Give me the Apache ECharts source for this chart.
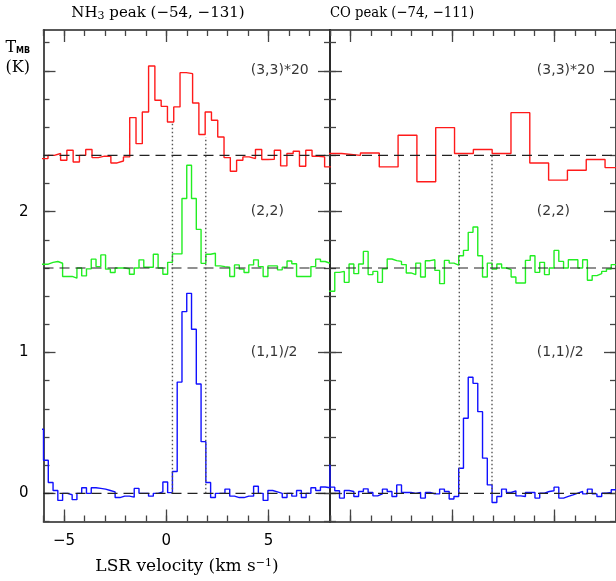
<!DOCTYPE html>
<html>
<head>
<meta charset="utf-8">
<title>NH3 and CO peak spectra</title>
<script src="https://cdn.jsdelivr.net/npm/echarts@6/dist/echarts.min.js"></script>
<style>
  html, body { margin: 0; padding: 0; background: #fff; }
  #chart { width: 616px; height: 581px; }
</style>
</head>
<body>
<div id="chart"></div>
<script>
// Axis extents and tick positions
const velRange = [-6, 8];
const tempRange = [-0.2, 3.29];
const velMajorTicks = [-5, 0, 5];
const velMinorTicks = [-6, -5, -4, -3, -2, -1, 0, 1, 2, 3, 4, 5, 6, 7, 8];
const tempMajorTicks = [0, 1, 2, 3];
const tempTickLabels = [0, 1, 2];
const tempMinorTicks = [-0.2, 0, 0.2, 0.4, 0.6, 0.8, 1, 1.2, 1.4, 1.6, 1.8, 2, 2.2, 2.4, 2.6, 2.8, 3, 3.2];

// Panels, transitions and the vertical offsets of the stacked spectra
const panelTitles = ['NH{sub|3} peak (−54, −131)', 'CO peak (−74, −111)'];
const transitionLabels = ['(3,3)*20', '(2,2)', '(1,1)/2'];
const transitionLevels = [3, 2, 1];
const baselineOffsets = [2.4, 1.6, 0];

// Channel grids: left edge of the first listed channel and channel width (km/s)
const fineChannelStart = -6.2333;
const fineChannelWidth = 0.23333;
const nh3RedChannelStart = -6.087;
const nh3RedChannelWidth = 0.3072;
const coRedChannelStart = -6.351;
const coRedChannelWidth = 0.921;

// NH3 peak position: (3,3)*20 + 2.4, (2,2) + 1.6, (1,1)/2
const nh3Peak33 = [
  2.377, 2.40, 2.413, 2.365, 2.436, 2.353, 2.40, 2.441, 2.384, 2.394,
  2.394, 2.346, 2.36, 2.389, 2.668, 2.483, 2.708, 3.034, 2.791, 2.748,
  2.637, 2.744, 2.987, 2.98, 2.772, 2.548, 2.708, 2.649, 2.53, 2.384,
  2.287, 2.365, 2.389, 2.377, 2.441, 2.37, 2.372, 2.436, 2.325, 2.413,
  2.429, 2.322, 2.436, 2.394, 2.389, 2.318
];
const nh3Peak22 = [
  1.627,
  1.627, 1.64, 1.646, 1.634, 1.54, 1.54, 1.528, 1.6, 1.544, 1.594,
  1.663, 1.61, 1.693, 1.592, 1.568, 1.6, 1.6, 1.595, 1.556, 1.6,
  1.658, 1.605, 1.605, 1.698, 1.6, 1.556, 1.64, 1.70, 1.70, 2.094,
  2.33, 2.094, 1.874, 1.633, 1.698, 1.705, 1.615, 1.61, 1.606, 1.54,
  1.622, 1.592, 1.568, 1.622, 1.658, 1.61, 1.54, 1.615, 1.615, 1.587,
  1.606, 1.65, 1.63, 1.54, 1.54, 1.54, 1.61, 1.663, 1.646, 1.634
];
const nh3Peak11 = [
  0.455,
  0.235, 0.077, 0.02, -0.05, 0.0, -0.01, -0.045, 0.0, 0.04, 0.0,
  0.04, 0.035, 0.03, 0.02, 0.01, -0.03, -0.02, -0.02, -0.027, 0.035,
  0.0, 0.0, -0.02, 0.0, 0.01, 0.08, 0.005, 0.155, 0.79, 1.29,
  1.42, 1.165, 0.776, 0.367, 0.077, -0.03, 0.0, 0.0, 0.03, -0.02,
  -0.03, -0.03, -0.02, -0.02, 0.05, 0.0, -0.05, 0.02, 0.01, 0.0,
  -0.03, 0.0, -0.02, 0.02, -0.03, 0.0, 0.04, 0.02, 0.045, 0.04
];

// CO peak position, same scaling and offsets
const coPeak33 = [
  2.413, 2.40, 2.417, 2.318, 2.543, 2.212, 2.597, 2.413, 2.441, 2.413,
  2.703, 2.346, 2.224, 2.294, 2.37, 2.313
];
const coPeak22 = [
  1.435,
  1.435, 1.569, 1.576, 1.498, 1.628, 1.56, 1.628, 1.718, 1.553, 1.576,
  1.498, 1.595, 1.664, 1.652, 1.647, 1.624, 1.565, 1.553, 1.635, 1.536,
  1.652, 1.659, 1.583, 1.489, 1.654, 1.635, 1.621, 1.687, 1.725, 1.853,
  1.891, 1.687, 1.536, 1.635, 1.593, 1.628, 1.6, 1.588, 1.536, 1.494,
  1.494, 1.654, 1.687, 1.569, 1.64, 1.553, 1.6, 1.725, 1.647, 1.6,
  1.659, 1.659, 1.6, 1.659, 1.513, 1.546, 1.56, 1.576, 1.593, 1.624
];
const coPeak11 = [
  0.2,
  0.044, 0.018, -0.034, 0.02, 0.013, -0.022, 0.013, 0.032, 0.006, -0.018,
  -0.004, 0.03, 0.013, -0.022, 0.06, 0.006, 0.006, 0.0, 0.006, -0.034,
  0.006, -0.004, -0.004, 0.03, 0.013, -0.04, -0.022, 0.178, 0.533, 0.824,
  0.781, 0.58, 0.25, 0.06, -0.065, -0.022, 0.03, 0.006, 0.018, -0.018,
  -0.022, 0.006, 0.006, -0.034, 0.001, 0.013, 0.018, 0.044, -0.034, -0.022,
  -0.011, 0.001, 0.013, -0.004, 0.03, -0.004, -0.022, 0.001, 0.006, 0.025
];

// Velocity interval of the main (1,1) line, drawn up to the (3,3) spectrum
const nh3Markers = [0.3, 1.93];
const nh3MarkerTops = [2.64, 2.53];
const coMarkers = [0.33, 1.93];
const coMarkerTops = [2.41, 2.41];

const SERIF = '"DejaVu Serif", serif';
const SANS = '"DejaVu Sans", sans-serif';
const AXIS_COLOR = '#222';
const TICK_COLOR = '#444';
const SPEC_COLORS = ['#ff1a1a', '#22ee22', '#1010ff'];

function histogram(start, width, values) {
  const pts = [];
  values.forEach((v, i) => {
    pts.push([start + i * width, v]);
    pts.push([start + (i + 1) * width, v]);
  });
  return pts;
}

const fmtNum = v => (v < 0 ? '−' + Math.abs(v) : String(v));

const grids = [
  { left: 43.5, top: 30, width: 286.5, height: 491.5 },
  { left: 330, top: 30, width: 286.5, height: 491.5 }
];

const xAxis = [];
const yAxis = [];
const tickStyle = { color: TICK_COLOR, width: 1.3 };
const lineStyleAxis = { show: true, onZero: false, lineStyle: { color: AXIS_COLOR, width: 1.6 } };
const noLine = { show: false, onZero: false };

grids.forEach((g, gi) => {
  const xb = { gridIndex: gi, type: 'value', min: velRange[0], max: velRange[1], splitLine: { show: false } };
  ['bottom', 'top'].forEach(pos => {
    xAxis.push(Object.assign({}, xb, {
      position: pos,
      axisLine: lineStyleAxis,
      axisTick: { show: true, inside: true, length: 12, customValues: velMajorTicks, lineStyle: tickStyle },
      axisLabel: {
        show: gi === 0 && pos === 'bottom', customValues: velMajorTicks, margin: 12,
        formatter: fmtNum, fontFamily: SANS, fontSize: 15, color: '#000'
      }
    }));
    xAxis.push(Object.assign({}, xb, {
      position: pos,
      axisLine: noLine,
      axisTick: { show: true, inside: true, length: 6, customValues: velMinorTicks, lineStyle: tickStyle },
      axisLabel: { show: false }
    }));
  });
  const yb = { gridIndex: gi, type: 'value', min: tempRange[0], max: tempRange[1], splitLine: { show: false } };
  ['left', 'right'].forEach(pos => {
    yAxis.push(Object.assign({}, yb, {
      position: pos,
      axisLine: lineStyleAxis,
      axisTick: { show: true, inside: true, length: 12, customValues: tempMajorTicks, lineStyle: tickStyle },
      axisLabel: {
        show: gi === 0 && pos === 'left', customValues: tempTickLabels, margin: 15,
        formatter: fmtNum, fontFamily: SANS, fontSize: 15, color: '#000'
      }
    }));
    yAxis.push(Object.assign({}, yb, {
      position: pos,
      axisLine: noLine,
      axisTick: { show: true, inside: true, length: 6, customValues: tempMinorTicks, lineStyle: tickStyle },
      axisLabel: { show: false }
    }));
  });
});

const panels = [
  {
    spectra: [
      histogram(nh3RedChannelStart, nh3RedChannelWidth, nh3Peak33),
      histogram(fineChannelStart, fineChannelWidth, nh3Peak22),
      histogram(fineChannelStart, fineChannelWidth, nh3Peak11)
    ],
    markers: nh3Markers, markerTops: nh3MarkerTops
  },
  {
    spectra: [
      histogram(coRedChannelStart, coRedChannelWidth, coPeak33),
      histogram(fineChannelStart, fineChannelWidth, coPeak22),
      histogram(fineChannelStart, fineChannelWidth, coPeak11)
    ],
    markers: coMarkers, markerTops: coMarkerTops
  }
];

const series = [];
panels.forEach((p, gi) => {
  const axes = { xAxisIndex: gi * 4, yAxisIndex: gi * 4 };
  p.spectra.forEach((pts, si) => {
    series.push(Object.assign({
      type: 'line', data: pts, symbol: 'none', clip: true, z: 2,
      lineStyle: { color: SPEC_COLORS[si], width: 1.4 }
    }, axes));
  });
  baselineOffsets.forEach(b => {
    series.push(Object.assign({
      type: 'line', data: [[velRange[0], b], [velRange[1], b]], symbol: 'none', z: 3,
      lineStyle: { color: '#222', width: 1.2, type: [10, 6] }
    }, axes));
  });
  p.markers.forEach((v, i) => {
    series.push(Object.assign({
      type: 'line', data: [[v, 0], [v, p.markerTops[i]]], symbol: 'none', z: 3,
      lineStyle: { color: '#555', width: 1.4, type: [1.5, 2.5] }
    }, axes));
  });
  series.push(Object.assign({
    type: 'scatter', symbol: 'circle', symbolSize: 1, z: 4,
    itemStyle: { color: 'rgba(0,0,0,0)' },
    data: transitionLevels.map((lv, i) => ({ value: [4.1, lv], name: transitionLabels[i] })),
    label: {
      show: true, position: 'right', distance: 0, color: '#000',
      formatter: prm => prm.name,
      fontFamily: SANS, fontSize: 14
    }
  }, axes));
});

const chart = echarts.init(document.getElementById('chart'), null, { renderer: 'canvas' });
chart.setOption({
  animation: false,
  backgroundColor: '#fff',
  grid: grids,
  xAxis: xAxis,
  yAxis: yAxis,
  series: series,
  graphic: [
    {
      type: 'text', x: 158, y: 13.5,
      style: {
        text: panelTitles[0], textAlign: 'center', textVerticalAlign: 'middle',
        font: '15px ' + SERIF, fill: '#000',
        rich: { sub: { fontSize: 11, fontFamily: SERIF, verticalAlign: 'bottom', padding: [6, 0, 0, 0] } }
      }
    },
    {
      type: 'text', x: 402, y: 13.5, scaleX: 0.88,
      style: { text: panelTitles[1], textAlign: 'center', textVerticalAlign: 'middle', font: '15px ' + SERIF, fill: '#000' }
    },
    { type: 'text', x: 5.5, y: 47.5, style: { text: 'T', textVerticalAlign: 'middle', font: '16px ' + SERIF, fill: '#000' } },
    { type: 'text', x: 16, y: 51, style: { text: 'MB', textVerticalAlign: 'middle', font: 'bold 8px ' + SANS, fill: '#000' } },
    { type: 'text', x: 5.5, y: 67.5, style: { text: '(K)', textVerticalAlign: 'middle', font: '16px ' + SERIF, fill: '#000' } },
    {
      type: 'text', x: 187, y: 567,
      style: {
        text: 'LSR velocity (km s{sup|−1})', textAlign: 'center', textVerticalAlign: 'middle',
        font: '17px ' + SERIF, fill: '#000',
        rich: { sup: { fontSize: 11, fontFamily: SERIF, verticalAlign: 'top', padding: [0, 0, 8, 0] } }
      }
    }
  ]
});
</script>
</body>
</html>
